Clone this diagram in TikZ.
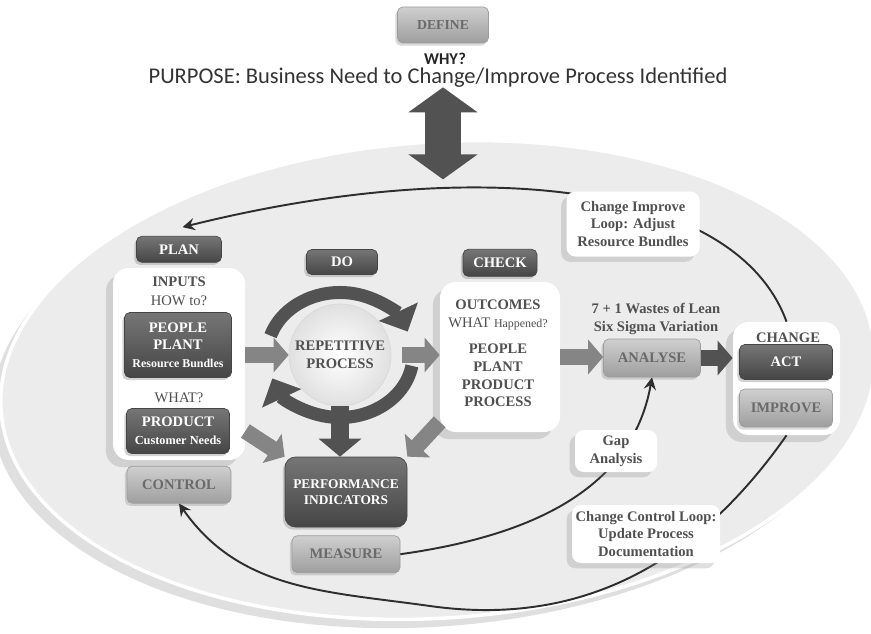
\documentclass[tikz,border=0pt]{standalone}
\usepackage{fontspec}
\setmainfont{Liberation Serif}
\newfontfamily\calibri{Carlito}
\usetikzlibrary{arrows.meta, positioning, shapes.geometric, shadows}

\definecolor{darktop}{HTML}{767676}
\definecolor{darkbot}{HTML}{454545}
\definecolor{lighttop}{HTML}{CFCFCF}
\definecolor{lightbot}{HTML}{9E9E9E}
\definecolor{txtgray}{HTML}{505050}
\definecolor{txtlight}{HTML}{6A6A6A}
\definecolor{arrowgray}{HTML}{858585}
\definecolor{arrowdark}{HTML}{525252}
\definecolor{ringfill}{HTML}{ECECEC}
\definecolor{loopclr}{HTML}{2E2E2E}

\begin{document}
\begin{tikzpicture}[
        font=\fontsize{8.3}{10}\selectfont\bfseries,
        dark box/.style={rectangle, rounded corners=3pt, top color=darktop, bottom color=darkbot, draw=darkbot, text=white, align=center, inner sep=1pt, drop shadow={shadow xshift=-1.2pt, shadow yshift=-1.5pt, opacity=0.35}},
        light box/.style={rectangle, rounded corners=3pt, top color=lighttop, bottom color=lightbot, draw=lightbot, text=txtlight, align=center, inner sep=1pt, drop shadow={shadow xshift=-1.2pt, shadow yshift=-1.5pt, opacity=0.3}},
        white panel/.style={rectangle, rounded corners=9pt, fill=white, drop shadow={shadow xshift=-4pt, shadow yshift=-4pt, opacity=0.25}},
        note box/.style={rectangle, rounded corners=5pt, fill=white, text=txtgray, align=center, inner sep=2pt, drop shadow={shadow xshift=-3pt, shadow yshift=-3pt, opacity=0.25}},
        panel text/.style={text=txtgray, align=center, inner sep=0pt},
        block arrow/.style={arrowgray, line width=0.32cm, -{Triangle[width=0.68cm, length=0.3cm]}},
        cycle arrow/.style={arrowdark, line width=0.26cm, -{Triangle[width=0.84cm, length=0.44cm]}},
        loop line/.style={loopclr, line width=1.1pt, -{Stealth[length=7pt, width=7pt, inset=2.5pt]}},
    ]

    % page
    \fill[white] (0,0) rectangle (17.42,12.66);
    \useasboundingbox (0,0) rectangle (17.42,12.66);

    % big cycle background
    \node[ellipse, rotate=4, minimum width=17.52cm, minimum height=9.52cm, fill=ringfill, draw=white, line width=2pt,
          drop shadow={shadow xshift=-5pt, shadow yshift=-5pt, opacity=0.25}] (cyclebg) at (8.76,5.06) {};

    % Heading
    \node[light box, minimum width=1.82cm, minimum height=0.72cm, font=\fontsize{7.8}{9}\selectfont\bfseries] (define) at (8.86,12.16) {DEFINE};
    \node[font=\calibri\bfseries\fontsize{9.4}{11}\selectfont, text=black!85] (why) at (8.9,11.48) {WHY?};
    \node[font=\calibri\fontsize{12.8}{14}\selectfont, text=black!80] (purpose) at (8.76,11.1) {PURPOSE: Business Need to Change/Improve Process Identified};
    \draw[arrowdark, line width=0.72cm, {Triangle[width=1.36cm, length=0.5cm]}-{Triangle[width=1.36cm, length=0.5cm]}]
        ([yshift=-0.88cm]define.south) -- ++(0,-1.84);

    % PLAN column
    \node[white panel, minimum width=2.64cm, minimum height=3.84cm] (inputs) at (3.58,5.38) {};
    \node[dark box, minimum width=1.7cm, minimum height=0.52cm, above=0.1cm of inputs] (plan) {PLAN};
    \node[panel text] (inputstitle) at (3.58,6.83) {INPUTS\\[1pt]{\mdseries HOW to?}};
    \node[dark box, minimum width=2.14cm, minimum height=1.3cm] (peopleplant) at (3.56,5.76) {PEOPLE\\PLANT\\{\fontsize{6.8}{8}\selectfont Resource Bundles}};
    \node[panel text] (whatin) at (3.58,4.7) {\mdseries WHAT?};
    \node[dark box, minimum width=2.06cm, minimum height=0.9cm] (product) at (3.56,4.04) {PRODUCT\\{\fontsize{7}{8}\selectfont Customer Needs}};
    \node[light box, minimum width=2.08cm, minimum height=0.74cm, below=0.11cm of inputs] (control) {CONTROL};

    % DO: repetitive process
    \node[circle, minimum size=2.04cm, inner color=white, outer color=black!12, draw=black!15, text=txtgray, align=center, inner sep=0pt] (rep) at (6.8,5.56) {REPETITIVE\\PROCESS};
    \node[dark box, minimum width=1.42cm, minimum height=0.5cm] (dolabel) at (6.84,7.42) {DO};
    \draw[cycle arrow] ([shift={(162:1.46 and 1.25)}]rep.center) arc[start angle=162, end angle=22, x radius=1.46cm, y radius=1.25cm];
    \draw[cycle arrow] ([shift={(-10:1.46 and 1.25)}]rep.center) arc[start angle=-10, end angle=-158, x radius=1.46cm, y radius=1.25cm];

    \node[dark box, rounded corners=6pt, minimum width=2.44cm, minimum height=1.4cm, font=\fontsize{7.6}{8.8}\selectfont\bfseries] (perf) at (6.92,2.82) {PERFORMANCE\\INDICATORS};
    \node[light box, minimum width=2.16cm, minimum height=0.74cm, below=0.16cm of perf] (measure) {MEASURE};

    % CHECK column
    \node[white panel, minimum width=2.4cm, minimum height=3.0cm] (outcomes) at (10.0,5.52) {};
    \node[dark box, minimum width=1.48cm, minimum height=0.54cm, above=0.1cm of outcomes] (check) {CHECK};
    \node[panel text] (outcomestxt) at (9.96,5.59) {OUTCOMES\\{\mdseries WHAT {\fontsize{6.8}{8}\selectfont Happened?}}\\[5pt]PEOPLE\\PLANT\\PRODUCT\\PROCESS};

    % analyse and act
    \node[panel text] (wastes) at (13.12,6.28) {7 + 1 Wastes of Lean\\Six Sigma Variation};
    \node[light box, minimum width=1.94cm, minimum height=0.76cm] (analyse) at (13.04,5.5) {ANALYSE};
    \node[white panel, minimum width=2.14cm, minimum height=2.26cm] (chgpanel) at (15.73,5.09) {};
    \node[panel text] (changetxt) at (15.76,5.9) {CHANGE};
    \node[dark box, minimum width=1.86cm, minimum height=0.7cm] (act) at (15.72,5.42) {ACT};
    \node[light box, minimum width=1.86cm, minimum height=0.76cm] (improve) at (15.72,4.5) {IMPROVE};

    % block arrows
    \draw[block arrow] (inputs.east |- rep) -- (rep.west);
    \draw[block arrow, shorten <=6pt] (rep.east) -- (rep.east -| outcomes.west);
    \draw[block arrow] (outcomes.east) -- (outcomes.east -| analyse.west);
    \draw[block arrow, arrowdark] (analyse.east) -- (analyse.east -| chgpanel.west);
    \draw[block arrow] (inputs.east |- product) -- (perf.north west);
    \draw[block arrow] ([yshift=6pt]outcomes.south west) -- (perf.north east);
    \draw[block arrow, arrowdark, line width=0.36cm, -{Triangle[width=0.84cm, length=0.36cm]}] (rep.south) -- (rep.south |- perf.north);

    % feedback loops
    \coordinate (lowpoint) at (8.6,0.54);
    \draw[loop line] (chgpanel.north) to[out=110, in=14, out distance=3cm, in distance=6cm] ([xshift=2pt, yshift=5pt]plan.north);
    \draw[loop line] (chgpanel.south) to[out=-125, in=-8] (lowpoint) to[out=172, in=-55] (control.south);
    \draw[loop line] (measure.east) to[out=8, in=-100] (analyse.south);

    % loop notes
    \node[note box, minimum width=2.66cm, minimum height=1.3cm] (improvenote) at (12.66,8.18) {Change Improve\\Loop: Adjust\\Resource Bundles};
    \node[note box, minimum width=1.64cm, minimum height=0.84cm] (gapnote) at (12.32,3.64) {Gap\\Analysis};
    \node[note box, minimum width=2.96cm, minimum height=1.16cm] (controlnote) at (12.92,1.98) {Change Control Loop:\\Update Process\\Documentation};

\end{tikzpicture}
\end{document}
